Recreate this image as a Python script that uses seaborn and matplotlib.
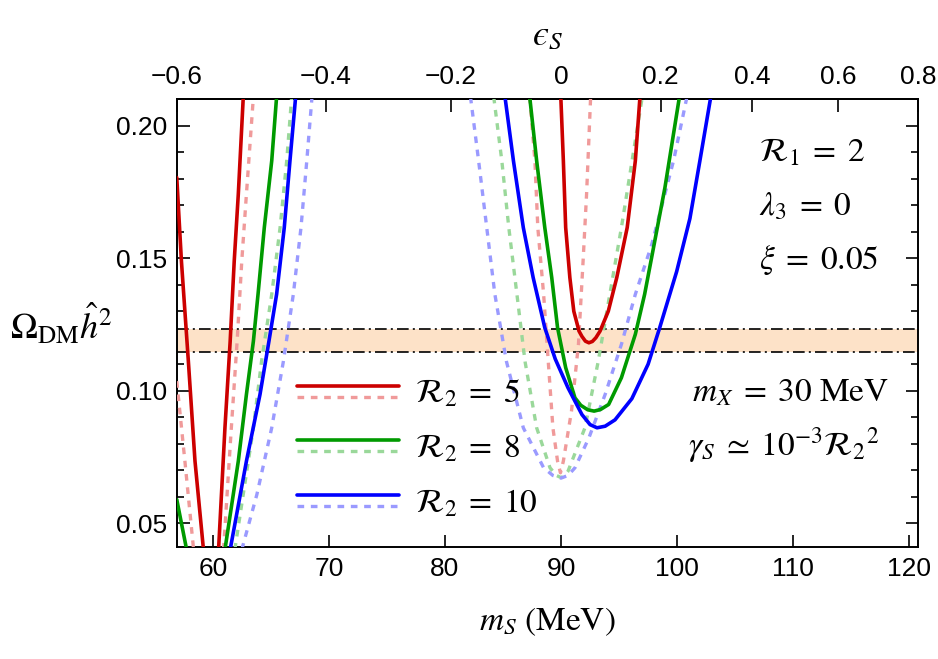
import numpy as np
import pandas as pd
import seaborn as sns
import matplotlib
matplotlib.use("Agg")
import matplotlib.pyplot as plt
from matplotlib.lines import Line2D
from matplotlib.legend_handler import HandlerBase
from matplotlib.ticker import MultipleLocator, FormatStrFormatter

# values: m_S (MeV) and Omega h^2, one pair per visible piece of curve
# R2 = 5, solid
s5_a_m = [56.90, 57.30, 57.90, 58.47, 59.20]
s5_a_om = [0.1805, 0.149, 0.111, 0.0734, 0.040]
s5_b_m = [60.50, 61.05, 61.50, 61.85, 62.20, 62.63]
s5_b_om = [0.040, 0.086, 0.1187, 0.149, 0.1742, 0.211]
s5_c_m = [89.98, 90.20, 90.40, 90.76, 91.10, 91.55, 91.80, 92.10, 92.40, 92.70, 93.00, 93.36, 94.07, 94.80, 95.70, 96.40, 96.80]
s5_c_om = [0.211, 0.1868, 0.1616, 0.1427, 0.130, 0.1225, 0.1205, 0.1187, 0.1181, 0.1186, 0.1200, 0.1225, 0.130, 0.1427, 0.1616, 0.1868, 0.211]
# R2 = 5, dashed
d5_a_m = [56.90, 57.60, 58.35]
d5_a_om = [0.1036, 0.0734, 0.040]
d5_b_m = [60.93, 61.60, 62.10, 62.50, 62.90, 63.50]
d5_b_om = [0.040, 0.086, 0.1187, 0.149, 0.1742, 0.211]
d5_c_m = [87.30, 87.75, 88.00, 88.50, 88.90, 89.30, 89.70, 89.95, 90.20, 90.90, 91.50, 91.90, 92.20, 92.55]
d5_c_om = [0.211, 0.1868, 0.1616, 0.1364, 0.111, 0.086, 0.0734, 0.069, 0.0734, 0.0923, 0.1175, 0.149, 0.1742, 0.211]

# R2 = 8, solid
s8_a_m = [56.90, 57.75]
s8_a_om = [0.0589, 0.040]
s8_b_m = [61.05, 62.20, 62.90, 63.50, 63.90, 64.44, 65.08, 65.50]
s8_b_om = [0.040, 0.0734, 0.0986, 0.1187, 0.1364, 0.1616, 0.1868, 0.211]
s8_c_m = [87.30, 87.90, 88.60, 89.20, 89.70, 90.40, 91.20, 91.70, 92.30, 92.85, 93.40, 94.10, 95.20, 96.40, 97.20, 98.95, 100.20]
s8_c_om = [0.211, 0.1868, 0.1616, 0.1427, 0.1238, 0.1087, 0.0973, 0.0945, 0.0928, 0.0923, 0.0929, 0.0948, 0.1049, 0.1213, 0.1364, 0.1767, 0.211]
# R2 = 8, dashed
d8_b_m = [61.90, 63.50, 64.20, 65.08, 65.80, 66.37, 66.80]
d8_b_om = [0.040, 0.086, 0.111, 0.1364, 0.1616, 0.1868, 0.211]
d8_c_m = [84.20, 84.90, 85.50, 86.20, 86.90, 87.90, 89.05, 89.60, 90.00, 90.30, 90.60, 92.06, 93.20, 94.20, 95.20, 97.00]
d8_c_om = [0.211, 0.1868, 0.1616, 0.1364, 0.111, 0.086, 0.0709, 0.0680, 0.0672, 0.0679, 0.0696, 0.086, 0.111, 0.1364, 0.1616, 0.211]

# R2 = 10, solid
s10_b_m = [61.50, 62.90, 64.07, 64.84, 65.50, 66.16, 66.65, 67.14]
s10_b_om = [0.040, 0.0734, 0.0986, 0.1187, 0.1364, 0.1616, 0.1868, 0.211]
s10_c_m = [85.17, 85.90, 86.75, 87.60, 88.60, 89.50, 90.60, 91.80, 92.50, 93.10, 93.80, 94.65, 96.10, 97.50, 98.50, 99.96, 101.10, 101.96, 102.90]
s10_c_om = [0.211, 0.1868, 0.1616, 0.1427, 0.1238, 0.112, 0.1011, 0.091, 0.0872, 0.086, 0.0866, 0.089, 0.097, 0.110, 0.1238, 0.145, 0.165, 0.1868, 0.211]
# R2 = 10, dashed
d10_b_m = [62.50, 63.80, 65.08, 66.08, 66.94, 67.60, 68.10, 68.55]
d10_b_om = [0.040, 0.0608, 0.086, 0.111, 0.1364, 0.1616, 0.1868, 0.211]
d10_c_m = [82.20, 82.90, 83.60, 84.30, 85.30, 86.75, 88.50, 89.30, 90.00, 90.60, 91.20, 92.40, 93.80, 95.20, 96.40, 97.80, 99.70, 100.85]
d10_c_om = [0.211, 0.1868, 0.1616, 0.1364, 0.111, 0.086, 0.0709, 0.0680, 0.0670, 0.0680, 0.0709, 0.0822, 0.0986, 0.1175, 0.1364, 0.155, 0.187, 0.211]

r2_values = [5, 8, 10]
band_low, band_high = 0.1146, 0.1232
m_xlim = (56.92, 120.75)
om_ylim = (0.041, 0.2102)
m_ticks = [60, 70, 80, 90, 100, 110, 120]
om_ticks = [0.05, 0.10, 0.15, 0.20]
eps_ticks = [-0.6, -0.4, -0.2, 0.0, 0.2, 0.4, 0.6, 0.8]
eps_labels = ["\u22120.6", "\u22120.4", "\u22120.2", "0", "0.2", "0.4", "0.6", "0.8"]

pieces = [
    (5, "solid", s5_a_m, s5_a_om), (5, "solid", s5_b_m, s5_b_om), (5, "solid", s5_c_m, s5_c_om),
    (5, "dashed", d5_a_m, d5_a_om), (5, "dashed", d5_b_m, d5_b_om), (5, "dashed", d5_c_m, d5_c_om),
    (8, "solid", s8_a_m, s8_a_om), (8, "solid", s8_b_m, s8_b_om), (8, "solid", s8_c_m, s8_c_om),
    (8, "dashed", d8_b_m, d8_b_om), (8, "dashed", d8_c_m, d8_c_om),
    (10, "solid", s10_b_m, s10_b_om), (10, "solid", s10_c_m, s10_c_om),
    (10, "dashed", d10_b_m, d10_b_om), (10, "dashed", d10_c_m, d10_c_om),
]
rows = []
for k, (r2, kind, ms, oms) in enumerate(pieces):
    for m, om in zip(ms, oms):
        rows.append({"R2": r2, "kind": kind, "seg": k, "m": m, "omega": om})
df = pd.DataFrame(rows)

solid_col = {5: "#cc0000", 8: "#009a00", 10: "#0000ff"}
dash_col = {5: "#f09a9a", 8: "#9ad89a", 10: "#9a9aff"}
dash_style = (0, (2.0, 2.0))

sns.set_theme(style="ticks")
plt.rcParams["font.family"] = ["Liberation Sans", "DejaVu Sans"]
plt.rcParams["mathtext.fontset"] = "stix"
plt.rcParams["text.color"] = "black"

fig = plt.figure(figsize=(9.38, 6.59), dpi=100)
ax = fig.add_axes([0.1887, 0.170, 0.790, 0.680])

ax.axhspan(band_low, band_high, color="#fde2c8", lw=0, zorder=1)
for yb in (band_low, band_high):
    ax.axhline(yb, color="black", lw=1.2, ls=(0, (7, 2.5, 1.2, 2.5)), zorder=2)

for kind in ["dashed", "solid"]:
    for seg, sub in df[df["kind"] == kind].groupby("seg"):
        r2 = sub["R2"].iloc[0]
        if kind == "solid":
            sns.lineplot(data=sub, x="m", y="omega", sort=False, estimator=None, ax=ax,
                         color=solid_col[r2], lw=2.6, zorder=4)
        else:
            sns.lineplot(data=sub, x="m", y="omega", sort=False, estimator=None, ax=ax,
                         color=dash_col[r2], lw=2.4, linestyle=dash_style, zorder=3)

ax.set_xlim(*m_xlim)
ax.set_ylim(*om_ylim)
ax.set_xticks(m_ticks)
ax.set_yticks(om_ticks)
ax.yaxis.set_major_formatter(FormatStrFormatter("%.2f"))
ax.yaxis.set_minor_locator(MultipleLocator(0.01))
ax.tick_params(which="both", direction="in", right=True, top=False, width=1.2, labelsize=19,
               color="black", labelcolor="black")
ax.tick_params(which="major", length=9, pad=7)
ax.tick_params(which="minor", length=5)
for sp in ax.spines.values():
    sp.set_linewidth(1.4)
    sp.set_color("black")

sec = ax.secondary_xaxis("top", functions=(lambda m: np.asarray(m) ** 2 / 8100.0 - 1.0,
                                          lambda e: 90.0 * np.sqrt(np.clip(1.0 + np.asarray(e), 0, None))))
sec.set_xticks(eps_ticks)
sec.set_xticklabels(eps_labels)
sec.tick_params(direction="in", length=9, width=1.2, labelsize=19, pad=7, color="black", labelcolor="black")
sec.spines["top"].set_linewidth(1.4)
sec.set_xlabel("$\u03f5_S$", fontsize=26, labelpad=14, color="black")

ax.set_xlabel(r"$m_S\ (\mathrm{MeV})$", fontsize=24, labelpad=18, color="black")
ax.set_ylabel(r"$\Omega_{\rm DM}\hat{h}^2$", fontsize=26, rotation=0, ha="center", va="center", color="black")
ax.yaxis.set_label_coords(-0.156, 0.496)

txt = dict(transform=ax.transAxes, fontsize=24, va="center", ha="left", color="black")
ax.text(0.785, 0.879, r"$\mathcal{R}_1\;=\;2$", **txt)
ax.text(0.785, 0.759, r"$\lambda_3\;=\;0$", **txt)
ax.text(0.785, 0.641, r"$\xi\;=\;0.05$", **txt)
ax.text(0.695, 0.344, r"$m_X\;=\;30\ \mathrm{MeV}$", **txt)
ax.text(0.690, 0.228, r"$\gamma_S\;\simeq\;10^{-3}\mathcal{R}_2{}^2$", **txt)


class StackedLines(HandlerBase):
    def create_artists(self, legend, orig_handle, xdescent, ydescent, width, height, fontsize, trans):
        out = []
        for k, h in enumerate(orig_handle):
            y = height / 2.0 + 4.0 - 8.0 * k - ydescent
            ln = Line2D([-xdescent, width - xdescent], [y, y])
            ln.update_from(h)
            ln.set_transform(trans)
            out.append(ln)
        return out


handles = []
for r2 in r2_values:
    hs = Line2D([], [], color=solid_col[r2], lw=2.6)
    hd = Line2D([], [], color=dash_col[r2], lw=2.4, linestyle=dash_style)
    handles.append((hs, hd))
ax.legend(handles=handles, labels=[rf"$\mathcal{{R}}_2\;=\;{r}$" for r in r2_values],
          handler_map={tuple: StackedLines()}, loc="center left", bbox_to_anchor=(0.162, 0.219),
          frameon=False, fontsize=24, handlelength=3.05, handletextpad=0.5, labelspacing=0.7,
          borderpad=0, borderaxespad=0, labelcolor="black")

fig.savefig("out.png", dpi=100)
